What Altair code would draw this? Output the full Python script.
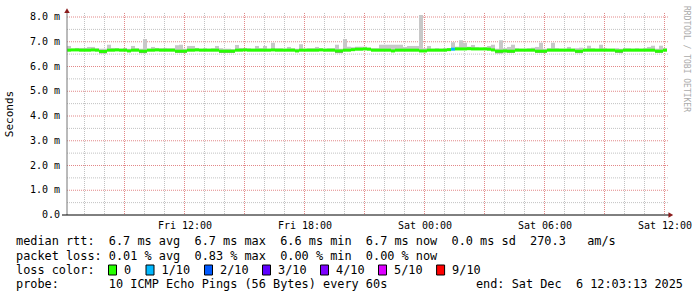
import altair as alt
import pandas as pd

# ---------------- data ----------------
# one value per 12-minute step, starting Fri Dec 5 06:07:30
median_ms = [
    6.66, 6.67, 6.67, 6.66, 6.66, 6.66, 6.67, 6.66, 6.61, 6.61,
    6.66, 6.66, 6.67, 6.66, 6.66, 6.63, 6.66, 6.66, 6.62, 6.62,
    6.66, 6.66, 6.67, 6.66, 6.66, 6.66, 6.66, 6.62, 6.62, 6.62,
    6.66, 6.66, 6.67, 6.66, 6.66, 6.66, 6.66, 6.66, 6.62, 6.62,
    6.62, 6.62, 6.66, 6.66, 6.67, 6.66, 6.66, 6.66, 6.66, 6.66,
    6.66, 6.67, 6.66, 6.66, 6.66, 6.66, 6.66, 6.63, 6.66, 6.66,
    6.66, 6.66, 6.66, 6.67, 6.66, 6.66, 6.66, 6.63, 6.63, 6.66,
    6.66, 6.68, 6.70, 6.70, 6.71, 6.70, 6.66, 6.66, 6.66, 6.66,
    6.66, 6.63, 6.66, 6.66, 6.66, 6.66, 6.66, 6.66, 6.63, 6.63,
    6.66, 6.66, 6.66, 6.66, 6.66, 6.68, 6.70, 6.71, 6.71, 6.71,
    6.72, 6.71, 6.71, 6.71, 6.71, 6.70, 6.67, 6.62, 6.62, 6.63,
    6.62, 6.62, 6.66, 6.66, 6.66, 6.66, 6.66, 6.62, 6.62, 6.62,
    6.66, 6.66, 6.66, 6.66, 6.66, 6.66, 6.66, 6.62, 6.62, 6.66,
    6.66, 6.66, 6.66, 6.66, 6.66, 6.66, 6.66, 6.63, 6.63, 6.66,
    6.66, 6.66, 6.66, 6.66, 6.66, 6.66, 6.66, 6.62, 6.62, 6.66,
]
smoke_top_ms = [
    6.83, 6.72, 6.75, 6.75, 6.75, 6.79, 6.79, 6.74, 6.72, 6.72,
    6.88, 6.75, 6.74, 6.72, 6.75, 6.72, 6.83, 6.74, 6.72, 7.11,
    6.72, 6.79, 6.75, 6.74, 6.75, 6.74, 6.74, 6.86, 6.88, 6.72,
    6.83, 6.83, 6.75, 6.72, 6.74, 6.72, 6.74, 6.83, 6.74, 6.72,
    6.72, 6.70, 6.87, 6.75, 6.74, 6.74, 6.72, 6.83, 6.74, 6.83,
    6.72, 6.96, 6.74, 6.74, 6.72, 6.79, 6.74, 6.72, 6.90, 6.72,
    6.74, 6.74, 6.79, 6.74, 6.72, 6.74, 6.74, 6.88, 6.72, 7.11,
    6.80, 6.78, 6.80, 6.80, 6.80, 6.76, 6.74, 6.74, 6.88, 6.88,
    6.88, 6.88, 6.88, 6.88, 6.79, 6.83, 6.83, 6.83, 8.08, 6.74,
    6.83, 6.72, 6.74, 6.72, 6.74, 6.74, 6.98, 6.80, 7.06, 6.96,
    6.80, 6.87, 6.78, 6.76, 6.78, 6.83, 6.88, 6.72, 7.06, 6.74,
    6.79, 6.88, 6.74, 6.72, 6.72, 6.74, 6.76, 6.79, 6.96, 6.72,
    6.74, 6.96, 6.74, 6.72, 6.72, 6.79, 6.72, 6.74, 6.76, 6.72,
    6.84, 6.74, 6.72, 6.88, 6.74, 6.72, 6.72, 6.74, 6.72, 6.74,
    6.74, 6.72, 6.74, 6.72, 6.74, 6.79, 6.84, 6.72, 6.84, 6.74,
]
smoke_low_ms = [
    6.62, 6.63, 6.63, 6.62, 6.62, 6.62, 6.63, 6.62, 6.53, 6.53,
    6.62, 6.62, 6.63, 6.62, 6.62, 6.58, 6.62, 6.62, 6.54, 6.54,
    6.62, 6.62, 6.63, 6.62, 6.62, 6.62, 6.62, 6.55, 6.55, 6.55,
    6.62, 6.62, 6.63, 6.62, 6.62, 6.62, 6.62, 6.62, 6.55, 6.55,
    6.55, 6.55, 6.62, 6.62, 6.63, 6.62, 6.62, 6.62, 6.62, 6.62,
    6.62, 6.63, 6.62, 6.62, 6.62, 6.62, 6.62, 6.58, 6.62, 6.62,
    6.62, 6.62, 6.62, 6.63, 6.62, 6.62, 6.62, 6.54, 6.54, 6.62,
    6.62, 6.64, 6.66, 6.66, 6.67, 6.66, 6.62, 6.62, 6.62, 6.62,
    6.62, 6.58, 6.62, 6.62, 6.62, 6.62, 6.62, 6.62, 6.58, 6.58,
    6.62, 6.62, 6.62, 6.62, 6.62, 6.64, 6.66, 6.67, 6.67, 6.67,
    6.68, 6.67, 6.67, 6.67, 6.67, 6.66, 6.63, 6.53, 6.53, 6.57,
    6.55, 6.55, 6.62, 6.62, 6.62, 6.62, 6.62, 6.55, 6.55, 6.55,
    6.62, 6.62, 6.62, 6.62, 6.62, 6.62, 6.62, 6.54, 6.54, 6.62,
    6.62, 6.62, 6.62, 6.62, 6.62, 6.62, 6.62, 6.55, 6.54, 6.62,
    6.62, 6.62, 6.62, 6.62, 6.62, 6.62, 6.62, 6.55, 6.55, 6.62,
]
loss_tenths = [
    0, 0, 0, 0, 0, 0, 0, 0, 0, 0,
    0, 0, 0, 0, 0, 0, 0, 0, 0, 0,
    0, 0, 0, 0, 0, 0, 0, 0, 0, 0,
    0, 0, 0, 0, 0, 0, 0, 0, 0, 0,
    0, 0, 0, 0, 0, 0, 0, 0, 0, 0,
    0, 0, 0, 0, 0, 0, 0, 0, 0, 0,
    0, 0, 0, 0, 0, 0, 0, 0, 0, 0,
    0, 0, 0, 0, 0, 0, 0, 0, 0, 0,
    0, 0, 0, 0, 0, 0, 0, 0, 0, 0,
    0, 0, 0, 0, 0, 0, 1, 0, 0, 0,
    0, 0, 0, 0, 0, 0, 0, 0, 0, 0,
    0, 0, 0, 0, 0, 0, 0, 0, 0, 0,
    0, 0, 0, 0, 0, 0, 0, 0, 0, 0,
    0, 0, 0, 0, 0, 0, 0, 0, 0, 0,
    0, 0, 0, 0, 0, 0, 0, 0, 0, 0,
]

loss_levels = [0, 1, 2, 3, 4, 5, 9]
loss_labels = ["0", "1/10", "2/10", "3/10", "4/10", "5/10", "9/10"]
loss_colors = ["#26ff00", "#00b8ff", "#0059ff", "#5e00ff", "#7e00ff", "#dd00ff", "#ff0000"]

y_major = [0, 1, 2, 3, 4, 5, 6, 7, 8]
y_labels = ["0.0", "1.0 m", "2.0 m", "3.0 m", "4.0 m", "5.0 m", "6.0 m", "7.0 m", "8.0 m"]
y_minor = [0.5, 1.5, 2.5, 3.5, 4.5, 5.5, 6.5, 7.5]

legend_line1 = "median rtt:  6.7 ms avg  6.7 ms max  6.6 ms min  6.7 ms now  0.0 ms sd  270.3   am/s"
legend_line2 = "packet loss: 0.01 % avg  0.83 % max  0.00 % min  0.00 % now"
legend_line3 = "loss color:"
legend_line4 = "probe:       10 ICMP Echo Pings (56 Bytes) every 60s"
legend_end = "end: Sat Dec  6 12:03:13 2025"
watermark = "RRDTOOL / TOBI OETIKER"

# ---------------- tables ----------------
steps = pd.date_range("2025-12-05 06:07:30", periods=len(median_ms), freq="12min")
fmt = "%Y-%m-%dT%H:%M:%S"
df = pd.DataFrame({
    "t": steps.strftime(fmt),
    "t2": (steps + pd.Timedelta(minutes=12)).strftime(fmt),
    "median": median_ms,
    "top": smoke_top_ms,
    "low": smoke_low_ms,
    "loss": loss_tenths,
})
hours = pd.date_range("2025-12-05 07:00", "2025-12-06 12:00", freq="1h")
hour_df = pd.DataFrame({"t": hours.strftime(fmt), "major": [h.hour % 3 == 0 for h in hours]})
ymaj_df = pd.DataFrame({"v": y_major, "label": y_labels})
ymin_df = pd.DataFrame({"v": y_minor})

W, H = 600, 198
MONO = "DejaVu Sans Mono"
t0 = alt.DateTime(year=2025, month=12, date=5, hours=6, minutes=7, seconds=30)
t1 = alt.DateTime(year=2025, month=12, date=6, hours=12, minutes=7, seconds=30)
xscale = alt.Scale(domain=[t0, t1])
yscale = alt.Scale(domain=[0, 8])

x_axis = alt.Axis(
    values=[alt.DateTime(year=2025, month=12, date=d, hours=h) for d, h in
            [(5, 12), (5, 18), (6, 0), (6, 6), (6, 12)]],
    format="%a %H:%M", labelFont=MONO, labelFontSize=10, labelColor="#000000",
    ticks=False, domain=False, grid=False, labelPadding=5, title=None,
    labelFlush=False, labelOverlap=False,
)

base = alt.Chart(df)

GRID_MINOR = "#c2c2c2"
GRID_MAJOR = "#e28888"

# grids
vgrid_minor = alt.Chart(hour_df).transform_filter("!datum.major").mark_rule(
    color=GRID_MINOR, strokeDash=[1, 1], strokeWidth=1
).encode(x=alt.X("t:T", scale=xscale, axis=x_axis), y=alt.value(-4), y2=alt.value(H))
vgrid_major = alt.Chart(hour_df).transform_filter("datum.major").mark_rule(
    color=GRID_MAJOR, strokeDash=[1, 1], strokeWidth=1
).encode(x="t:T", y=alt.value(-4), y2=alt.value(H))
hgrid_minor = alt.Chart(ymin_df).mark_rule(color=GRID_MINOR, strokeDash=[1, 1]).encode(
    y=alt.Y("v:Q", scale=yscale, axis=None), x=alt.value(0), x2=alt.value(W + 2))
hgrid_major = alt.Chart(ymaj_df).transform_filter("datum.v > 0").mark_rule(
    color=GRID_MAJOR, strokeDash=[1, 1]).encode(
    y=alt.Y("v:Q", axis=None), x=alt.value(0), x2=alt.value(W + 2))
ylabels = alt.Chart(ymaj_df).mark_text(
    font=MONO, fontSize=10, align="right", baseline="middle", color="#000000"
).encode(y=alt.Y("v:Q", axis=None), x=alt.value(-7), text="label:N")

# smoke
smoke_hi = base.mark_rect(color="#c8c8c8").encode(
    x="t:T", x2="t2:T", y=alt.Y("median:Q", axis=None), y2="top:Q")
smoke_lo = base.mark_rect(color="#9a9a9a").encode(
    x="t:T", x2="t2:T", y=alt.Y("low:Q", axis=None), y2="median:Q")

# median line coloured by loss
med = base.mark_rule(strokeWidth=3).encode(
    x="t:T", x2="t2:T", y=alt.Y("median:Q", axis=None),
    color=alt.Color("loss:O", scale=alt.Scale(domain=loss_levels, range=loss_colors), legend=None),
)

# axes lines and arrows
axis_df = pd.DataFrame({
    "t": ["2025-12-05T06:07:30"], "tl": ["2025-12-05T05:52:30"], "tr": ["2025-12-06T12:16:00"],
    "ta": ["2025-12-06T12:19:00"], "y0": [0.0], "ytop": [8.22], "yarr": [8.26],
})
ax_base = alt.Chart(axis_df)
yline = ax_base.mark_rule(color="#777777", strokeWidth=1).encode(
    x="t:T", y=alt.Y("y0:Q", axis=None), y2="ytop:Q")
xline = ax_base.mark_rule(color="#000000", strokeWidth=1).encode(
    x="tl:T", x2="tr:T", y=alt.Y("y0:Q", axis=None))
arrow_up = ax_base.mark_point(shape="triangle-up", filled=True, size=30, color="#8b1c1c", opacity=1).encode(
    x="t:T", y=alt.Y("yarr:Q", axis=None))
arrow_right = ax_base.mark_point(shape="triangle-right", filled=True, size=30, color="#8b1c1c", opacity=1).encode(
    x="ta:T", y=alt.Y("y0:Q", axis=None))

# text blocks
one = alt.Data(values=[{"a": 1}])
NB = "\u00a0"


def txt(s, x, y, size=11.86, align="left", color="#000000", angle=0, font=MONO):
    kw = dict(font=font, fontSize=size, align=align, baseline="middle", color=color,
              text=s.replace(" ", NB))
    if angle:
        kw["angle"] = angle
    return alt.Chart(one).mark_text(**kw).encode(x=alt.value(x), y=alt.value(y))


L = -51  # legend left edge relative to plot
texts = [
    txt(legend_line1, L, 224),
    txt(legend_line2, L, 239),
    txt(legend_line3, L, 253),
    txt(legend_line4, L, 267),
    txt(legend_end, 616, 267, align="right"),
    txt("Seconds", -57, 97, size=11, angle=270, align="center"),
    txt(watermark, 619, 42, size=8, color="#aaaaaa", angle=90, align="center"),
]

swatch_x = [108.5, 146, 204.5, 262.5, 320.5, 378.5, 436.6]
swatches = []
for sx, lab, col in zip(swatch_x, loss_labels, loss_colors):
    rx = sx - 67
    swatches.append(
        alt.Chart(one).mark_rect(color=col, stroke="#000000", strokeWidth=1).encode(
            x=alt.value(rx), x2=alt.value(rx + 8), y=alt.value(248), y2=alt.value(258))
    )
    swatches.append(txt(lab, rx + 15.5, 253))

chart = alt.layer(
    vgrid_minor, vgrid_major, hgrid_minor, hgrid_major, ylabels,
    smoke_hi, smoke_lo, med,
    yline, xline, arrow_up, arrow_right,
    *texts, *swatches,
).properties(
    width=W, height=H,
    padding={"left": 67, "top": 17, "right": 30, "bottom": 82},
    autosize=alt.AutoSizeParams(type="none"),
    background="#ffffff",
).configure_view(stroke=None)

chart.save("out.html", embed_options={"renderer": "svg", "actions": False})
